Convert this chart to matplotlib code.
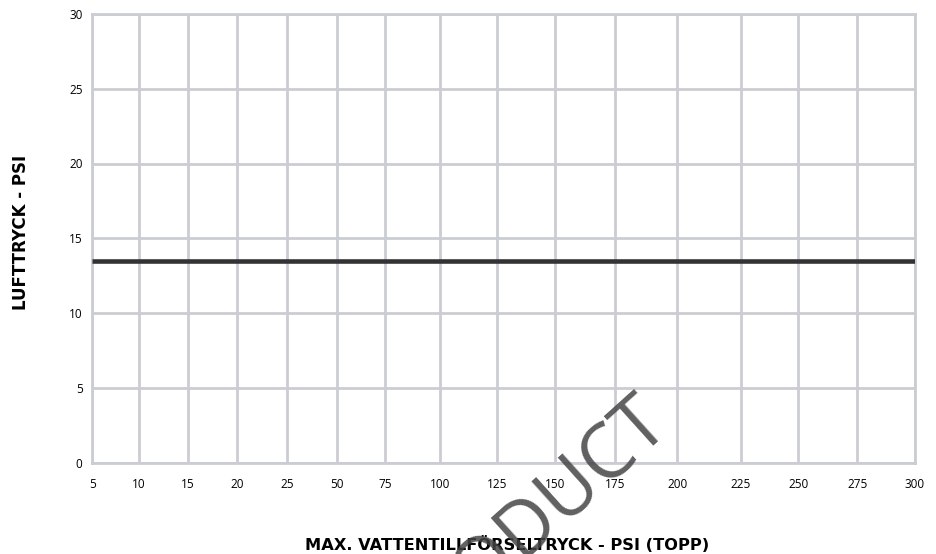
import matplotlib
matplotlib.use("Agg")
import matplotlib.pyplot as plt

# ---- data ----
x_labels = ["5", "10", "15", "20", "25", "50", "75", "100", "125", "150",
            "175", "200", "225", "250", "275", "300"]
air_psi = [13.5, 13.5, 13.5, 13.5, 13.5, 13.5, 13.5, 13.5, 13.5, 13.5,
           13.5, 13.5, 13.5, 13.5, 13.5, 13.5]
y_ticks = [0, 5, 10, 15, 20, 25, 30]
x_title = "MAX. VATTENTILLFÖRSELTRYCK - PSI (TOPP)"
y_title = "LUFTTRYCK - PSI"
watermark = "PRODUCT"

# ---- layout (uneven category spacing as drawn in the reference) ----
tick_pos = [0.0, 0.057, 0.116, 0.176, 0.237, 0.297, 0.356, 0.423,
            0.492, 0.563, 0.635, 0.711, 0.788, 0.858, 0.930, 1.0]

grid_col = "#cbcdd4"

fig = plt.figure(figsize=(9.36, 5.54), dpi=100)
ax = fig.add_axes([92.3 / 936, 1 - 462.5 / 554, (915 - 92.3) / 936, (462.5 - 14) / 554])

ax.set_xlim(tick_pos[0], tick_pos[-1])
ax.set_ylim(0, 30)
ax.set_xticks(tick_pos)
ax.set_xticklabels(x_labels, fontfamily="Open Sans", fontsize=8.5)
ax.set_yticks(y_ticks)
ax.set_yticklabels([str(v) for v in y_ticks], fontfamily="Open Sans", fontsize=8.5)
ax.tick_params(axis="both", length=0)
ax.tick_params(axis="x", pad=11.5)
ax.tick_params(axis="y", pad=7)

ax.grid(True, color=grid_col, linewidth=2.0, zorder=0)
ax.set_axisbelow(True)
for s in ax.spines.values():
    s.set_color(grid_col)
    s.set_linewidth(2.0)

ax.plot(tick_pos, air_psi, color="#333333", linewidth=3.3, solid_capstyle="butt", zorder=3)

lab_font = ["Liberation Sans Narrow", "DejaVu Sans Condensed", "DejaVu Sans"]
fig.text(507 / 936, 1 - 544 / 554, x_title, ha="center", va="center",
         fontsize=11.7, fontweight="bold", family=lab_font)
fig.text(21 / 936, 1 - 232 / 554, y_title, ha="center", va="center", rotation=90,
         fontsize=12, fontweight="bold", family=lab_font)

fig.text(670 / 936, 1 - 424 / 554, watermark, ha="right", va="baseline",
         rotation=42, rotation_mode="anchor", fontsize=55, family="Open Sans",
         color="#444444", alpha=0.85, zorder=10)

fig.savefig("out.png", dpi=100)
